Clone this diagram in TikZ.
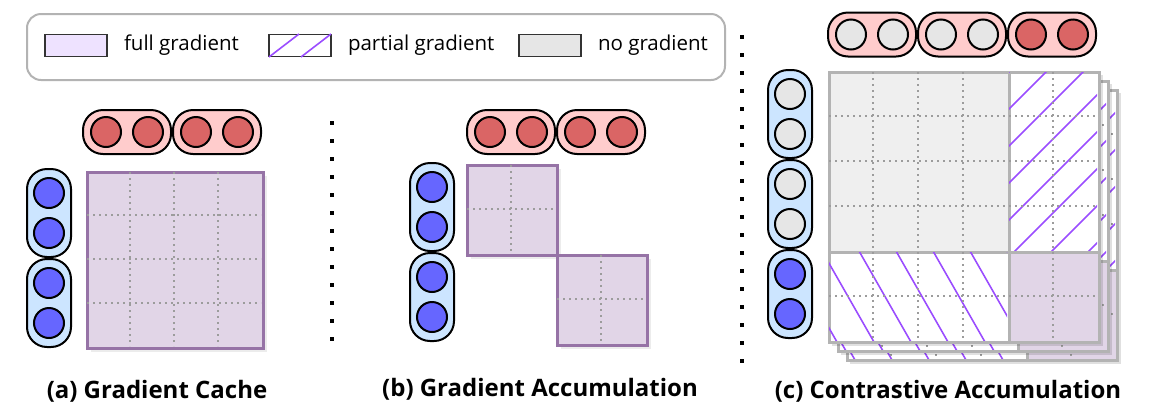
\documentclass[tikz,border=0pt]{standalone}
\usepackage{fontspec}
\setmainfont{Open Sans}
\usetikzlibrary{positioning,shadows}
\definecolor{cRd}{HTML}{DA6565}
\definecolor{cRdP}{HTML}{FFCCCC}
\definecolor{cBl}{HTML}{6666FF}
\definecolor{cBlP}{HTML}{CCE5FF}
\definecolor{cGy}{HTML}{E6E6E6}
\definecolor{cMx}{HTML}{E1D5E7}
\definecolor{cMxB}{HTML}{9673A6}
\definecolor{cNo}{HTML}{EFEFEF}
\definecolor{cNoB}{HTML}{B3B3B3}
\definecolor{cGd}{HTML}{9C9C9C}
\definecolor{cHt}{HTML}{9B4DFF}
\definecolor{cLg}{HTML}{EEE2FF}
\begin{document}
\begin{tikzpicture}[x=1pt,y=-1pt,font=\fontsize{20.5}{24}\selectfont,
  hpill/.style={draw,line width=2pt,fill=cRdP,rounded corners=20pt,minimum width=88pt,minimum height=44pt,inner sep=0pt},
  vpill/.style={hpill,fill=cBlP,minimum width=44pt,minimum height=88pt},
  emb/.style={circle,draw,line width=2pt,fill=#1,minimum size=30pt,inner sep=0pt},
  mtx/.style={draw=cMxB,fill=cMx,line width=2.5pt,inner sep=0pt,anchor=north west,
    drop shadow={shadow xshift=4pt,shadow yshift=-4pt,opacity=0.15}},
  cell/.style={draw=cNoB,fill=#1,line width=2.5pt,inner sep=0pt,anchor=north west},
  grd/.style={cGd,line width=1.8pt,dash pattern=on 1.8pt off 4.2pt},
  hatch/.style={cHt,line width=1.6pt},
  sw/.style={draw=black!80,line width=1.6pt,minimum width=62pt,minimum height=22pt,inner sep=0pt},
  lgt/.style={inner sep=0pt,right=16pt of #1},
  captxt/.style={font=\bfseries\fontsize{24}{28}\selectfont}]
\useasboundingbox (0,0) rectangle (1163,416);
% ---------- legend ----------
\node[draw=cNoB,line width=2pt,rounded corners=14pt,minimum width=698pt,minimum height=66pt,anchor=north west] (leg) at (26,13) {};
\node[sw,fill=cLg] (swf) at (76,45.5) {};
\node[lgt=swf] (tf) {full gradient};
\node[sw,fill=white] (swp) at (300,45.5) {};
\draw[hatch] (269,57)--(299,34) (301,57)--(331,34);
\node[lgt=swp] (tp) {partial gradient};
\node[sw,fill=cGy] (swn) at (550,45.5) {};
\node[lgt=swn] (tn) {no gradient};
% ---------- (a) gradient cache ----------
\node[hpill] (aq1) at (127,132) {};
\node[hpill,right=0pt of aq1] (aq2) {};
\node[vpill] (ak1) at (49,213) {};
\node[vpill,below=0pt of ak1] (ak2) {};
\foreach \p in {aq1,aq2}{
  \node[emb=cRd,xshift=-21pt] (\p-l) at (\p) {};
  \node[emb=cRd,xshift=21pt] (\p-r) at (\p) {};}
\foreach \p in {ak1,ak2}{
  \node[emb=cBl,yshift=20pt] (\p-t) at (\p) {};
  \node[emb=cBl,yshift=-20pt] (\p-b) at (\p) {};}
\node[mtx,minimum width=176pt,minimum height=176pt] (ma) at (86,171) {};
\foreach \i in {1,2,3}{
  \draw[grd] (86+44*\i,172) -- (86+44*\i,346);
  \draw[grd] (87,171+44*\i) -- (261,171+44*\i);}
\node[captxt] (capa) at (157,391) {(a) Gradient Cache};
% ---------- (b) gradient accumulation ----------
\foreach \k in {0,...,12}{\fill (330,121+18*\k) rectangle ++(4,4);}
\node[hpill] (bq1) at (511,132) {};
\node[hpill,right=0pt of bq1] (bq2) {};
\node[vpill] (bk1) at (432,207) {};
\node[vpill,below=0pt of bk1] (bk2) {};
\foreach \p in {bq1,bq2}{
  \node[emb=cRd,xshift=-21pt] (\p-l) at (\p) {};
  \node[emb=cRd,xshift=21pt] (\p-r) at (\p) {};}
\foreach \p in {bk1,bk2}{
  \node[emb=cBl,yshift=20pt] (\p-t) at (\p) {};
  \node[emb=cBl,yshift=-20pt] (\p-b) at (\p) {};}
\node[mtx,minimum width=90pt,minimum height=90pt] (mb1) at (466,164) {};
\node[mtx,minimum width=90pt,minimum height=90pt] (mb2) at (556,254) {};
\draw[grd] (511,165)--(511,253) (467,209)--(555,209);
\draw[grd] (601,255)--(601,343) (557,299)--(645,299);
\node[captxt] (capb) at (540,389) {(b) Gradient Accumulation};
% ---------- (c) contrastive accumulation ----------
\foreach \k in {0,...,18}{\fill (740,35+18*\k) rectangle ++(4,4);}
\node[hpill] (cq1) at (872,34.5) {};
\node[hpill,right=0pt of cq1] (cq2) {};
\node[hpill,right=0pt of cq2] (cq3) {};
\node[vpill] (ck1) at (790,114) {};
\node[vpill,below=0pt of ck1] (ck2) {};
\node[vpill,below=0pt of ck2] (ck3) {};
\foreach \p/\c in {cq1/cGy,cq2/cGy,cq3/cRd}{
  \node[emb=\c,xshift=-21pt] (\p-l) at (\p) {};
  \node[emb=\c,xshift=21pt] (\p-r) at (\p) {};}
\foreach \p/\c in {ck1/cGy,ck2/cGy,ck3/cBl}{
  \node[emb=\c,yshift=20pt] (\p-t) at (\p) {};
  \node[emb=\c,yshift=-20pt] (\p-b) at (\p) {};}
\foreach \o in {18,9,0}{
\begin{scope}[shift={(\o,\o)}]
  \fill[black,opacity=0.12] (832,75) rectangle (1103,346);
  \node[cell=cNo,minimum width=180pt,minimum height=180pt] (cn\o) at (828,71) {};
  \node[cell=white,minimum width=90pt,minimum height=180pt] (ct\o) at (1008,71) {};
  \node[cell=white,minimum width=180pt,minimum height=90pt] (cb\o) at (828,251) {};
  \node[cell=cMx,minimum width=90pt,minimum height=90pt] (cf\o) at (1008,251) {};
  \begin{scope}
    \clip (1009,72) rectangle (1097,250);
    \foreach \k in {0,...,7}{\draw[hatch] (1081+37*\k,0) -- (681+37*\k,400);}
  \end{scope}
  \begin{scope}
    \clip (829,252) rectangle (1007,340);
    \foreach \k in {-2,...,5}{\draw[hatch] (782+37*\k,181) -- (902+37*\k,391);}
  \end{scope}
  \foreach \x in {873,918,963,1053}{\draw[grd] (\x,72) -- (\x,340);}
  \foreach \y in {116,161,206,296}{\draw[grd] (829,\y) -- (1097,\y);}
\end{scope}}
\node[captxt] (capc) at (948,391) {(c) Contrastive Accumulation};
\end{tikzpicture}
\end{document}
